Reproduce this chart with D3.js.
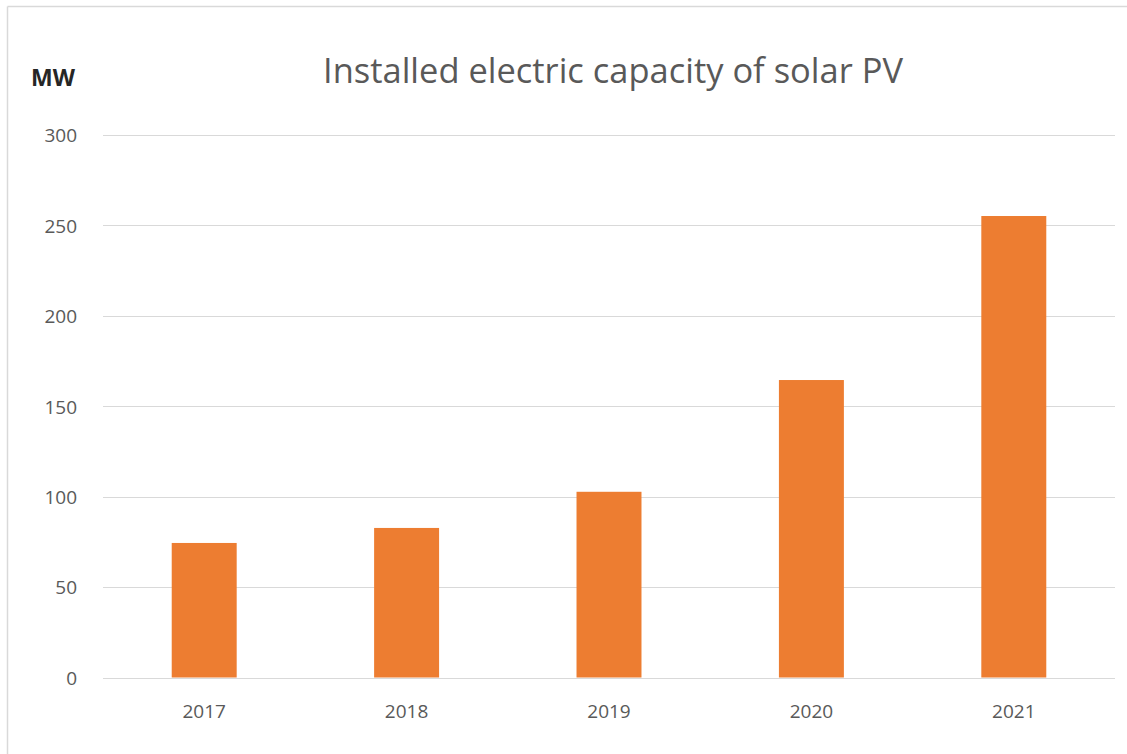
<!DOCTYPE html>
<html>
<head>
<meta charset="utf-8">
<script src="https://cdn.jsdelivr.net/npm/d3@7"></script>
<style>
  html, body { margin: 0; padding: 0; background: #fff; }
  svg { display: block; }
</style>
</head>
<body>
<svg id="chart" width="1127" height="754"></svg>
<script>
const categories = ["2017", "2018", "2019", "2020", "2021"];
const values = [74.4, 82.7, 102.7, 164.5, 255.2];
const yTicks = [0, 50, 100, 150, 200, 250, 300];
const title = "Installed electric capacity of solar PV";
const unitLabel = "MW";

const svg = d3.select("#chart");
const W = 1127, H = 754;
const font = "'Open Sans', 'Noto Sans', sans-serif";

// frame lines (top and left)
svg.append("line").attr("x1", 7.5).attr("x2", W).attr("y1", 6.5).attr("y2", 6.5)
  .attr("stroke", "#d9d9d9").attr("stroke-width", 1.5);
svg.append("line").attr("x1", 7.5).attr("x2", 7.5).attr("y1", 6.5).attr("y2", H)
  .attr("stroke", "#d9d9d9").attr("stroke-width", 1.5);

const x = d3.scaleBand().domain(categories).range([103, 1115])
  .paddingInner(0.679).paddingOuter(0.3395);
const y = d3.scaleLinear().domain([0, 300]).range([677.5, 135]);

// gridlines
svg.append("g").selectAll("line").data(yTicks).join("line")
  .attr("x1", 103).attr("x2", 1115)
  .attr("y1", d => Math.round(y(d)) + 0.5).attr("y2", d => Math.round(y(d)) + 0.5)
  .attr("stroke", "#d9d9d9").attr("stroke-width", 1);

// y axis labels
const yAxis = d3.axisLeft(y).tickValues(yTicks).tickSize(0).tickPadding(0);
const gy = svg.append("g").attr("transform", "translate(77,0)").call(yAxis);
gy.select(".domain").remove();
gy.selectAll("text").attr("font-family", font).attr("font-size", 19)
  .attr("fill", "#595959").attr("dy", "0.36em");

// bars
svg.append("g").selectAll("rect").data(values).join("rect")
  .attr("x", (d, i) => x(categories[i]))
  .attr("width", x.bandwidth())
  .attr("y", d => y(d))
  .attr("height", d => y(0) - y(d))
  .attr("fill", "#ED7D31");

// x axis labels
const xAxis = d3.axisBottom(x).tickSize(0).tickPadding(0);
const gx = svg.append("g").attr("transform", "translate(0,700)").call(xAxis);
gx.select(".domain").remove();
gx.selectAll("text").attr("font-family", font).attr("font-size", 19)
  .attr("fill", "#595959").attr("dy", "0.95em");

// title
const t = svg.append("text").attr("x", 613).attr("y", 83)
  .attr("text-anchor", "middle").attr("font-family", font)
  .attr("font-size", 32).attr("fill", "#595959").text(title);
const len = t.node().getComputedTextLength();
if (len > 0) t.attr("font-size", 32 * 580 / len);

// unit label
svg.append("text").attr("x", 53).attr("y", 86).attr("text-anchor", "middle")
  .attr("font-family", font).attr("font-weight", "bold").attr("font-size", 23)
  .attr("fill", "#262626").text(unitLabel);
</script>
</body>
</html>
